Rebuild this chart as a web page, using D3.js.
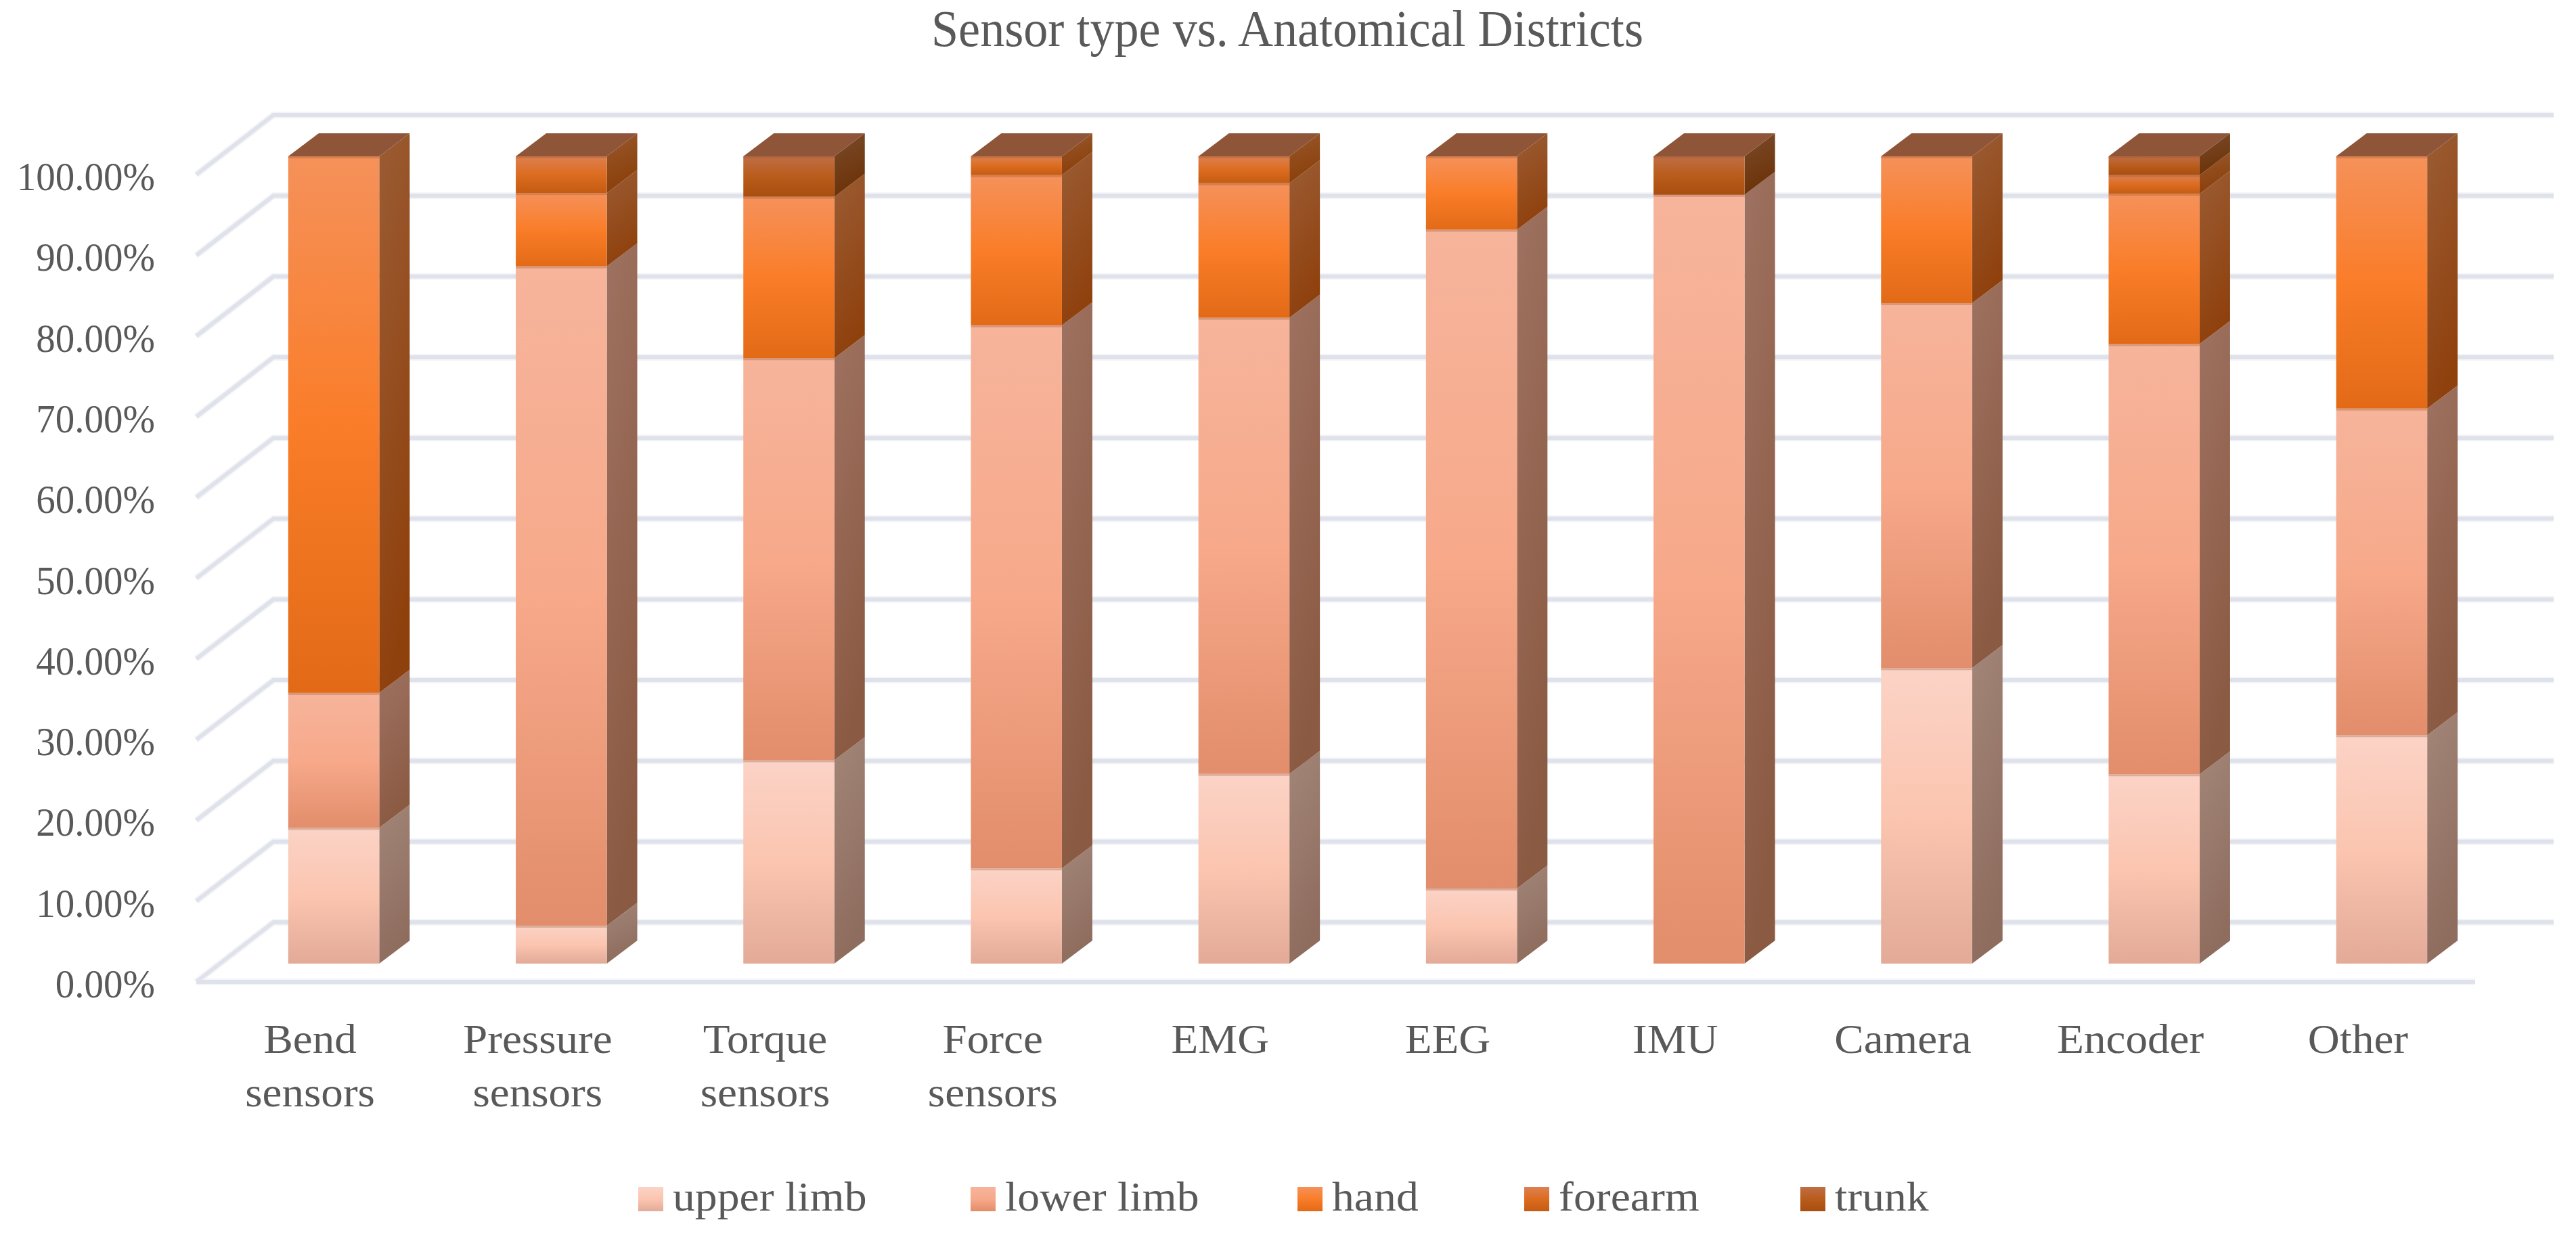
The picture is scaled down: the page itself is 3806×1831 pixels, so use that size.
<!DOCTYPE html>
<html><head><meta charset="utf-8"><script src="https://cdn.jsdelivr.net/npm/d3@7"></script>
<style>html,body{margin:0;background:#fff}svg{display:block}text{font-family:"Liberation Serif",serif;fill:#595959}</style></head>
<body><svg id="c" width="3806" height="1831"></svg>
<script>
const categories=["Bend sensors","Pressure sensors","Torque sensors","Force sensors","EMG","EEG","IMU","Camera","Encoder","Other"];
const seriesNames=["upper limb","lower limb","hand","forearm","trunk"];
const upperLimb=[16.82,4.7,25.2,11.8,23.5,9.3,0,36.6,23.45,28.3];
const lowerLimb=[16.72,81.67,49.8,67.27,56.5,81.61,95.24,45.21,53.3,40.46];
const hand=[66.46,9.09,20,18.6,16.67,9.09,0,18.19,18.6,31.24];
const forearm=[0,4.54,0,2.33,3.33,0,0,0,2.32,0];
const trunk=[0,0,5,0,0,0,4.76,0,2.33,0];
const tickValues=[0,10,20,30,40,50,60,70,80,90,100];

const frontStops=[["#fbd3c6","#fbc5b0","#e2aa97"],["#f6b49b","#f7a98a","#e28d6b"],["#f5915a","#fa7d29","#e26a16"],["#dd8050","#dc6c20","#c45c12"],["#c06e45","#b95c1c","#a84e0e"]];
const sideStops=[["#a28678","#8e6c5e"],["#9e7261","#8b5a43"],["#9b5c34","#8f410d"],["#98582c","#8a3f0a"],["#7a4b2b","#6c3208"]];
const gridColor="#dfe2ea", gridHalo="#f4f5f8", topColor="#8f5538";
const dx=45, dy=34, wallDx=114, wallFront=27, wallBack=-61;

const svg=d3.select("#c");
const defs=svg.append("defs");
seriesNames.forEach((s,i)=>{
  const f=defs.append("linearGradient").attr("id","f"+i).attr("x1",0).attr("y1",0).attr("x2",0).attr("y2",1);
  frontStops[i].forEach((c,k)=>f.append("stop").attr("offset",k/2).attr("stop-color",c));
  const g=defs.append("linearGradient").attr("id","s"+i).attr("x1",0).attr("y1",0).attr("x2",.25).attr("y2",1);
  sideStops[i].forEach((c,k)=>g.append("stop").attr("offset",k).attr("stop-color",c));
});

const x=d3.scaleBand().domain(categories).range([290,3652]).paddingInner(.6).paddingOuter(.3);
const y=d3.scaleLinear().domain([0,100]).range([1424,231]);
const rows=categories.map((c,i)=>({c,"upper limb":upperLimb[i],"lower limb":lowerLimb[i],hand:hand[i],forearm:forearm[i],trunk:trunk[i]}));
const stacked=d3.stack().keys(seriesNames)(rows);

// walls and floor
const path=tickValues.map(t=>{
  const yf=y(t)+wallFront, yb=y(t)+wallBack;
  return `M290,${yf}L290,${yf}L${290+wallDx},${yb}L3773,${yb}`+(t===0?`M290,${yf}L3657,${yf}`:"");
});
const halo=svg.append("g").attr("fill","none").attr("stroke",gridHalo).attr("stroke-width",10);
halo.selectAll("path").data(path).join("path").attr("d",d=>d);
const grid=svg.append("g").attr("fill","none").attr("stroke",gridColor).attr("stroke-width",6);
grid.selectAll("path").data(path).join("path").attr("d",d=>d);

// bars
const barX=d=>x(d.data.c)+dx-10;
const w=x.bandwidth();
stacked.forEach((ser,i)=>{
  const g=svg.append("g");
  const vis=ser.filter(d=>d[1]-d[0]>0);
  g.selectAll("path.side").data(vis).join("path").attr("class","side")
   .attr("fill",`url(#s${i})`)
   .attr("d",d=>{const X=barX(d)+w,a=y(d[0]),b=y(d[1]);return `M${X},${a}L${X+dx},${a-dy}L${X+dx},${b-dy}L${X},${b}Z`;});
  g.selectAll("rect.front").data(vis).join("rect").attr("class","front")
   .attr("x",barX).attr("width",w).attr("y",d=>y(d[1])).attr("height",d=>y(d[0])-y(d[1]))
   .attr("fill",`url(#f${i})`);
  g.selectAll("rect.bevel").data(vis).join("rect").attr("class","bevel")
   .attr("x",barX).attr("width",w).attr("y",d=>y(d[1])).attr("height",3)
   .attr("fill",topColor).attr("opacity",.3);
});
// top faces
svg.append("g").selectAll("path").data(categories).join("path").attr("fill",topColor)
 .attr("d",c=>{const X=x(c)+dx-10,t=y(100);return `M${X},${t}L${X+dx},${t-dy}L${X+w+dx},${t-dy}L${X+w},${t}Z`;});

// fit a text's width to the reference's wider or narrower typeface
function fit(sel,k){sel.each(function(){const n=this.getComputedTextLength();d3.select(this).attr("textLength",n*k).attr("lengthAdjust","spacingAndGlyphs");});}

// y tick labels
svg.append("g").selectAll("text").data(tickValues).join("text")
 .attr("x",229).attr("y",t=>y(t)+wallFront+23).attr("text-anchor","end").attr("font-size",60)
 .text(t=>t.toFixed(2)+"%").call(fit,.95);

// x labels
const xl=svg.append("g").selectAll("text").data(categories).join("text")
 .attr("text-anchor","middle").attr("font-size",62)
 .attr("transform",c=>`translate(${x(c)+w/2},1556)`);
xl.each(function(c){
  const parts=c.split(" ");
  d3.select(this).selectAll("tspan").data(parts).join("tspan").attr("x",0).attr("y",(p,i)=>i*79).text(p=>p)
    .each(function(){const n=this.getComputedTextLength();d3.select(this).attr("textLength",n*1.05).attr("lengthAdjust","spacingAndGlyphs");});
});

// title
svg.append("text").attr("x",1376).attr("y",68).attr("font-size",76)
 .attr("textLength",1052).attr("lengthAdjust","spacingAndGlyphs").text("Sensor type vs. Anatomical Districts");

// legend
const legendX=[943,1434,1917,2252,2660];
const lg=svg.append("g").selectAll("g").data(seriesNames).join("g").attr("transform",(s,i)=>`translate(${legendX[i]},0)`);
lg.append("rect").attr("y",1754).attr("width",37).attr("height",36).attr("fill",(s,i)=>`url(#f${i})`);
lg.append("text").attr("x",51).attr("y",1789).attr("font-size",62).text(s=>s).call(fit,1.06);
</script></body></html>
